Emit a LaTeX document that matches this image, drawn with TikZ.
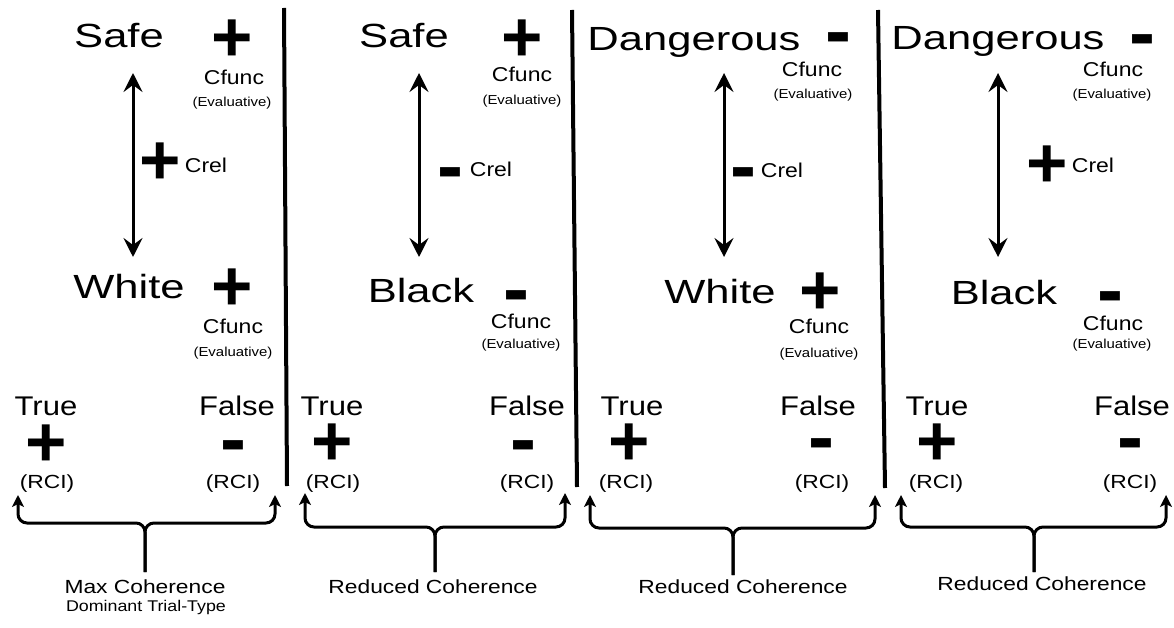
\documentclass[tikz,border=0pt]{standalone}
\usepackage{fontspec}
\setmainfont{Liberation Sans}
\newfontfamily\widefont[FakeStretch=1.3]{Liberation Sans}
\newfontfamily\midfont[FakeStretch=1.15]{Liberation Sans}
\newfontfamily\rcifont[FakeStretch=1.2]{Liberation Sans}
\usetikzlibrary{arrows.meta}

\begin{document}
\begin{tikzpicture}[x=1pt,y=-1pt,
  word/.style={font=\widefont\fontsize{33.5}{36}\selectfont,inner sep=0,anchor=base},
  tf/.style={font=\midfont\fontsize{27}{30}\selectfont,inner sep=0,anchor=base},
  cfunc/.style={font=\midfont\fontsize{20}{22}\selectfont,inner sep=0,anchor=base},
  evl/.style={font=\midfont\fontsize{13}{15}\selectfont,inner sep=0,anchor=base},
  rci/.style={font=\rcifont\fontsize{19}{21}\selectfont,inner sep=0,anchor=base},
  dom/.style={font=\midfont\fontsize{15.5}{17}\selectfont,inner sep=0,anchor=base},
  sgn/.style={font=\bfseries\fontsize{71}{75}\selectfont,inner sep=0},
  neg/.style={sgn,font=\bfseries\fontsize{78}{80}\selectfont,yshift=-8pt},
  link/.style={line width=3pt,{Stealth[length=19pt,width=19pt,inset=7pt]}-{Stealth[length=19pt,width=19pt,inset=7pt]}},
  brace/.style={line width=3pt,rounded corners=9pt,-{Stealth[length=12pt,width=12pt,inset=3pt]}},
  divider/.style={line width=4pt}]
\useasboundingbox (0,0) rectangle (1174,628);

% panel 1
\node[word] (safe1) at (119,48) {Safe};
\node[sgn] (safesg1) at (232,41) {+};
\node[cfunc] (cfsafe1) at (234,85) {Cfunc};
\node[evl] (evsafe1) at (232,107) {(Evaluative)};
\coordinate (top1) at (133,73);
\coordinate (bot1) at (133,257);
\draw[link] (top1) -- (bot1);
\node[sgn] (relsg1) at (160,164) {+};
\node[cfunc] (crel1) at (206,173) {Crel};
\node[word] (white1) at (129,298) {White};
\node[sgn] (whitesg1) at (232,290) {+};
\node[cfunc] (cfwhite1) at (233,333) {Cfunc};
\node[evl] (evwhite1) at (233,356) {(Evaluative)};
\node[tf] (true1) at (46,415) {True};
\node[tf] (false1) at (237,415) {False};
\node[sgn] (truesg1) at (46,446) {+};
\node[neg] (falsesg1) at (233,445) {-};
\node[rci] (rcit1) at (47,488) {(RCI)};
\node[rci] (rcif1) at (233,488) {(RCI)};
\coordinate (stem1) at (145,572);
\coordinate (tipl1) at (18,495);
\coordinate (tipr1) at (275,495);
\draw[brace] (stem1) -- ++(0,-49) -| (tipl1);
\draw[brace] (stem1) -- ++(0,-49) -| (tipr1);
\node[rci] (coh1) at (145,593) {Max Coherence};
\node[dom] (dom1) at (146,611) {Dominant Trial-Type};
\draw[divider] (284,8) -- (287,486);

% panel 2
\node[word] (safe2) at (404,48) {Safe};
\node[sgn] (safesg2) at (522,41) {+};
\node[cfunc] (cfsafe2) at (522,82) {Cfunc};
\node[evl] (evsafe2) at (522,105) {(Evaluative)};
\coordinate (top2) at (419,73);
\coordinate (bot2) at (419,257);
\draw[link] (top2) -- (bot2);
\node[neg] (relsg2) at (450,172) {-};
\node[cfunc] (crel2) at (491,177) {Crel};
\node[word] (black2) at (421,302) {Black};
\node[neg] (blacksg2) at (516,295) {-};
\node[cfunc] (cfblack2) at (521,328) {Cfunc};
\node[evl] (evblack2) at (521,348) {(Evaluative)};
\node[tf] (true2) at (332,415) {True};
\node[tf] (false2) at (527,415) {False};
\node[sgn] (truesg2) at (332,445) {+};
\node[neg] (falsesg2) at (523,445) {-};
\node[rci] (rcit2) at (333,488) {(RCI)};
\node[rci] (rcif2) at (527,488) {(RCI)};
\coordinate (stem2) at (435,572);
\coordinate (tipl2) at (305,493);
\coordinate (tipr2) at (565,493);
\draw[brace] (stem2) -- ++(0,-45) -| (tipl2);
\draw[brace] (stem2) -- ++(0,-45) -| (tipr2);
\node[rci] (coh2) at (433,593) {Reduced Coherence};
\draw[divider] (572,10) -- (577,487);

% panel 3
\node[word] (danger3) at (694,51) {Dangerous};
\node[neg] (dangersg3) at (838,37) {-};
\node[cfunc] (cfdanger3) at (812,77) {Cfunc};
\node[evl] (evdanger3) at (813,99) {(Evaluative)};
\coordinate (top3) at (724,73);
\coordinate (bot3) at (724,257);
\draw[link] (top3) -- (bot3);
\node[neg] (relsg3) at (743,172) {-};
\node[cfunc] (crel3) at (782,178) {Crel};
\node[word] (white3) at (720,303) {White};
\node[sgn] (whitesg3) at (820,294) {+};
\node[cfunc] (cfwhite3) at (819,333) {Cfunc};
\node[evl] (evwhite3) at (819,357) {(Evaluative)};
\node[tf] (true3) at (632,415) {True};
\node[tf] (false3) at (818,415) {False};
\node[sgn] (truesg3) at (629,445) {+};
\node[neg] (falsesg3) at (821,443) {-};
\node[rci] (rcit3) at (626,488) {(RCI)};
\node[rci] (rcif3) at (822,488) {(RCI)};
\coordinate (stem3) at (733,575);
\coordinate (tipl3) at (590,495);
\coordinate (tipr3) at (875,495);
\draw[brace] (stem3) -- ++(0,-47) -| (tipl3);
\draw[brace] (stem3) -- ++(0,-47) -| (tipr3);
\node[rci] (coh3) at (743,593) {Reduced Coherence};
\draw[divider] (878,10) -- (885,488);

% panel 4
\node[word] (danger4) at (998,50) {Dangerous};
\node[neg] (dangersg4) at (1142,39) {-};
\node[cfunc] (cfdanger4) at (1113,77) {Cfunc};
\node[evl] (evdanger4) at (1112,99) {(Evaluative)};
\coordinate (top4) at (998,73);
\coordinate (bot4) at (998,257);
\draw[link] (top4) -- (bot4);
\node[sgn] (relsg4) at (1047,167) {+};
\node[cfunc] (crel4) at (1093,173) {Crel};
\node[word] (black4) at (1004,304) {Black};
\node[neg] (blacksg4) at (1110,296) {-};
\node[cfunc] (cfblack4) at (1113,330) {Cfunc};
\node[evl] (evblack4) at (1112,348) {(Evaluative)};
\node[tf] (true4) at (937,415) {True};
\node[tf] (false4) at (1132,415) {False};
\node[sgn] (truesg4) at (937,445) {+};
\node[neg] (falsesg4) at (1130,443) {-};
\node[rci] (rcit4) at (936,488) {(RCI)};
\node[rci] (rcif4) at (1130,488) {(RCI)};
\coordinate (stem4) at (1034,572);
\coordinate (tipl4) at (901,495);
\coordinate (tipr4) at (1166,495);
\draw[brace] (stem4) -- ++(0,-45) -| (tipl4);
\draw[brace] (stem4) -- ++(0,-45) -| (tipr4);
\node[rci] (coh4) at (1042,590) {Reduced Coherence};
\end{tikzpicture}
\end{document}
